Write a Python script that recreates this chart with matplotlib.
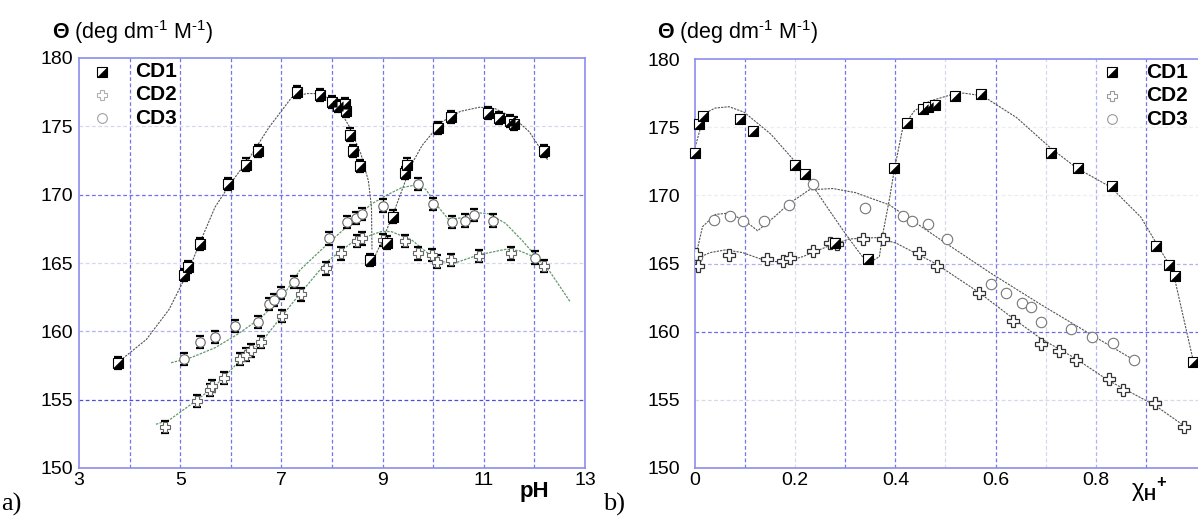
import numpy as np
import matplotlib.pyplot as plt

plt.rcParams['font.family'] = ['Liberation Sans', 'DejaVu Sans']
plt.rcParams['mathtext.fontset'] = 'custom'
plt.rcParams['mathtext.rm'] = 'Liberation Sans'
plt.rcParams['mathtext.it'] = 'Liberation Sans:italic'
plt.rcParams['mathtext.bf'] = 'Liberation Sans:bold'

# ---- panel a): ellipticity vs pH (points with error bars) ----
ph_cd1 = [3.78, 5.08, 5.16, 5.39, 5.95, 6.31, 6.54, 7.30, 7.76, 8.00, 8.11, 8.25, 8.27,
          8.36, 8.42, 8.55, 8.76, 9.09, 9.20, 9.45, 9.48, 10.10, 10.36, 11.09, 11.31,
          11.52, 11.60, 12.19]
th_cd1 = [157.7, 164.1, 164.7, 166.4, 170.8, 172.2, 173.2, 177.5, 177.3, 176.8, 176.5,
          176.6, 176.1, 174.4, 173.2, 172.1, 165.2, 166.5, 168.4, 171.6, 172.2, 174.9,
          175.7, 176.0, 175.6, 175.4, 175.2, 173.2]

ph_cd2 = [4.69, 5.33, 5.58, 5.62, 5.86, 6.18, 6.30, 6.40, 6.60, 7.02, 7.39, 7.89, 8.17,
          8.50, 8.59, 9.00, 9.45, 9.70, 9.97, 10.07, 10.35, 10.90, 11.53, 12.18]
th_cd2 = [153.0, 154.9, 155.7, 156.0, 156.6, 158.0, 158.3, 158.6, 159.2, 161.1, 162.7,
          164.6, 165.7, 166.6, 166.8, 166.7, 166.6, 165.7, 165.6, 165.1, 165.2, 165.5,
          165.7, 164.8]

ph_cd3 = [5.08, 5.39, 5.69, 6.09, 6.54, 6.75, 6.85, 7.00, 7.25, 7.95, 8.30, 8.47, 8.60,
          9.00, 9.70, 10.00, 10.37, 10.62, 10.81, 11.19, 12.01]
th_cd3 = [158.0, 159.2, 159.6, 160.4, 160.7, 162.0, 162.3, 162.8, 163.6, 166.8, 168.0,
          168.3, 168.6, 169.2, 170.8, 169.3, 168.0, 168.1, 168.5, 168.1, 165.4]

err_a = 0.45

# fitted curves (two branches for CD1)
fit_ph_cd1a = [3.76, 4.33, 4.78, 5.16, 5.39, 5.69, 5.99, 6.37, 6.75, 7.2, 7.5, 7.73,
               8.04, 8.34, 8.57, 8.72, 8.78, 8.79]
fit_th_cd1a = [157.7, 159.4, 161.6, 164.4, 166.5, 169.1, 170.8, 172.7, 174.9, 177.1,
               177.4, 177.4, 176.9, 175.0, 173.0, 171.0, 169.1, 166.0]
fit_ph_cd1b = [8.80, 9.0, 9.2, 9.37, 9.57, 9.78, 10.16, 10.54, 10.92, 11.22, 11.6,
               11.9, 12.27]
fit_th_cd1b = [165.1, 166.7, 168.5, 170.2, 172.2, 173.6, 175.3, 176.1, 176.4, 176.3,
               175.6, 174.6, 172.5]
fit_ph_cd2 = [4.52, 4.78, 5.23, 5.69, 6.14, 6.6, 7.05, 7.4, 7.9, 8.43, 8.97, 9.17,
              9.57, 9.9, 10.17, 10.43, 10.9, 11.43, 11.7, 12.03, 12.2]
fit_th_cd2 = [153.2, 153.5, 154.7, 156.0, 157.7, 159.2, 161.3, 162.9, 165.1, 166.6,
              167.3, 167.3, 166.7, 165.7, 165.1, 165.0, 165.6, 166.0, 165.9, 165.4, 164.8]
fit_ph_cd3 = [4.82, 5.23, 5.69, 6.14, 6.6, 7.05, 7.37, 7.97, 8.37, 8.77, 9.1, 9.37,
              9.63, 9.85, 10.1, 10.3, 10.57, 10.83, 11.1, 11.43, 11.77, 12.03, 12.3, 12.7]
fit_th_cd3 = [157.7, 158.1, 158.8, 159.8, 161.0, 162.7, 164.5, 166.6, 167.9, 169.3,
              170.0, 170.5, 170.7, 170.4, 169.1, 168.2, 168.3, 168.7, 168.6, 167.9,
              166.6, 165.5, 164.4, 162.2]

# ---- panel b): ellipticity vs molar fraction chi_H+ ----
x_cd1 = [0.0, 0.008, 0.015, 0.089, 0.115, 0.2, 0.22, 0.28, 0.345, 0.397, 0.423, 0.455,
         0.466, 0.48, 0.519, 0.57, 0.71, 0.765, 0.832, 0.92, 0.947, 0.958, 0.995]
y_cd1 = [173.1, 175.2, 175.8, 175.6, 174.7, 172.2, 171.6, 166.5, 165.3, 172.0, 175.3,
         176.3, 176.5, 176.6, 177.3, 177.4, 173.1, 172.0, 170.7, 166.3, 164.9, 164.1, 157.8]
x_cd2 = [0.001, 0.005, 0.067, 0.143, 0.176, 0.19, 0.235, 0.27, 0.283, 0.335, 0.375,
         0.447, 0.483, 0.566, 0.634, 0.69, 0.727, 0.761, 0.826, 0.855, 0.918, 0.977]
y_cd2 = [165.7, 164.8, 165.6, 165.3, 165.2, 165.4, 165.9, 166.5, 166.4, 166.8, 166.8,
         165.8, 164.8, 162.8, 160.8, 159.1, 158.6, 157.9, 156.5, 155.7, 154.8, 153.0]
x_cd3 = [0.004, 0.037, 0.069, 0.096, 0.138, 0.187, 0.235, 0.34, 0.416, 0.433, 0.465,
         0.504, 0.591, 0.621, 0.653, 0.67, 0.69, 0.751, 0.792, 0.835, 0.877]
y_cd3 = [165.5, 168.2, 168.5, 168.1, 168.1, 169.3, 170.8, 169.1, 168.5, 168.1, 167.9,
         166.8, 163.5, 162.8, 162.1, 161.8, 160.7, 160.2, 159.6, 159.2, 157.9]

fit_x_cd1a = [0.0, 0.019, 0.04, 0.068, 0.098, 0.151, 0.204, 0.235, 0.268, 0.3, 0.328, 0.345]
fit_y_cd1a = [173.5, 176.0, 176.4, 176.5, 176.1, 174.5, 172.3, 170.7, 168.9, 167.2, 165.8, 165.0]
fit_x_cd1b = [0.345, 0.368, 0.375, 0.388, 0.398, 0.415, 0.438, 0.468, 0.513, 0.536,
              0.574, 0.642, 0.709, 0.762, 0.83, 0.89, 0.919, 0.947, 0.958, 0.995]
fit_y_cd1b = [165.0, 165.5, 167.2, 169.7, 171.9, 175.0, 176.2, 176.9, 177.4, 177.5,
              177.3, 175.7, 173.5, 172.0, 170.6, 168.4, 166.6, 164.9, 163.8, 157.8]
fit_x_cd2 = [0.0, 0.03, 0.061, 0.095, 0.141, 0.176, 0.215, 0.268, 0.308, 0.361, 0.401,
             0.48, 0.566, 0.634, 0.69, 0.761, 0.826, 0.918, 0.98]
fit_y_cd2 = [165.3, 165.8, 166.0, 165.8, 165.2, 165.1, 165.5, 166.3, 166.8, 166.9,
             166.5, 165.0, 162.9, 161.0, 159.5, 158.0, 156.4, 154.6, 153.0]
fit_x_cd3 = [0.0, 0.015, 0.041, 0.068, 0.101, 0.125, 0.161, 0.188, 0.228, 0.275, 0.32,
             0.388, 0.488, 0.59, 0.69, 0.79, 0.877]
fit_y_cd3 = [165.3, 167.7, 168.6, 168.7, 168.1, 167.4, 168.5, 169.4, 170.4, 170.5,
             170.2, 169.3, 166.8, 164.3, 162.0, 159.8, 157.9]

labels = ['CD1', 'CD2', 'CD3']

# half-filled square for CD1: open square + lower-right black triangle
TRI = [(-1, -1), (1, -1), (1, 1), (-1, -1)]


def cd1_marker(ax, x, y, ms, transform=None, z=5):
    kw = {} if transform is None else {'transform': transform}
    ax.plot(x, y, ls='none', marker='s', ms=ms, mfc='white', mec='black', mew=0.8,
            zorder=z, clip_on=False, **kw)
    ax.plot(x, y, ls='none', marker=TRI, ms=ms, mfc='black', mec='black', mew=0.3,
            zorder=z + 0.1, clip_on=False, **kw)


def style_axes(ax, xgrid, ygrid):
    for s in ax.spines.values():
        s.set_color('#8c8cf0')
        s.set_linewidth(1.2)
    ax.tick_params(length=0, labelsize=14)
    for xv, c in xgrid:
        ax.axvline(xv, color=c, lw=0.9, ls=(0, (3, 2)), zorder=0)
    for yv, c in ygrid:
        ax.axhline(yv, color=c, lw=0.9, ls=(0, (3, 2)), zorder=0)


W, H = 1198, 518
fig = plt.figure(figsize=(W / 100, H / 100), dpi=100)

BLUE = '#7474ee'
LBLUE = '#b0b0f4'
GREY = '#d8d8e8'
YLAB = r'$\mathbf{\Theta}$ (deg dm$^{\text{-1}}$ M$^{\text{-1}}$)'

# ---------------- panel a ----------------
axa = fig.add_axes([79 / W, 1 - 468 / H, 506 / W, 410 / H])
axa.set_xlim(3, 13)
axa.set_ylim(150, 180)
axa.set_xticks([3, 5, 7, 9, 11, 13])
axa.set_yticks([150, 155, 160, 165, 170, 175, 180])
style_axes(axa,
           [(4, BLUE), (5, BLUE), (6, BLUE), (7, BLUE), (8, BLUE), (9, BLUE),
            (10, BLUE), (11, BLUE), (12, BLUE)],
           [(155, '#4c4cdd'), (160, LBLUE), (165, GREY), (170, '#7070f0'), (175, GREY)])
axa.tick_params(axis='y', pad=4)
axa.tick_params(axis='x', pad=3)

axa.plot(fit_ph_cd1a, fit_th_cd1a, color='#555555', lw=0.8, ls=(0, (2, 1)), zorder=2)
axa.plot(fit_ph_cd1b, fit_th_cd1b, color='#555555', lw=0.8, ls=(0, (2, 1)), zorder=2)
axa.plot(fit_ph_cd2, fit_th_cd2, color='#5f9a6a', lw=0.9, ls=(0, (2, 1)), zorder=2)
axa.plot(fit_ph_cd3, fit_th_cd3, color='#5f9a6a', lw=0.9, ls=(0, (2, 1)), zorder=2)

for xs, ys in [(ph_cd1, th_cd1), (ph_cd2, th_cd2), (ph_cd3, th_cd3)]:
    axa.errorbar(xs, ys, yerr=err_a, fmt='none', ecolor='black', elinewidth=0.9,
                 capsize=3.2, capthick=1.6, zorder=3)
axa.plot(ph_cd3, th_cd3, ls='none', marker='o', ms=6.8, mfc='white', mec='#666666',
         mew=0.8, zorder=4)
axa.plot(ph_cd2, th_cd2, ls='none', marker='P', ms=6.8, mfc='white', mec='#666666',
         mew=0.8, zorder=4)
cd1_marker(axa, ph_cd1, th_cd1, 6.8)

# legend a
leg_y = [0.967, 0.910, 0.853]
cd1_marker(axa, [0.045], [leg_y[0]], 6.5, transform=axa.transAxes)
axa.plot([0.045], [leg_y[1]], ls='none', marker='P', ms=7, mfc='white', mec='#b0b0b0',
         mew=0.8, transform=axa.transAxes)
axa.plot([0.045], [leg_y[2]], ls='none', marker='o', ms=7, mfc='white', mec='#a0a0a0',
         mew=0.8, transform=axa.transAxes)
for yy, lab in zip(leg_y, labels):
    axa.text(0.11, yy, lab, transform=axa.transAxes, fontsize=15, fontweight='bold',
             va='center', ha='left')

fig.text(52 / W, 1 - 32 / H, YLAB, fontsize=15.5, va='center', ha='left')
fig.text(534 / W, 1 - 492 / H, 'pH', fontsize=16, fontweight='bold', ha='center',
         va='center')
fig.text(1 / W, 1 - 504 / H, 'a)', fontsize=19, family='Liberation Serif', ha='left',
         va='center')

# ---------------- panel b ----------------
axb = fig.add_axes([695 / W, 1 - 468 / H, 521 / W, 409 / H])
axb.set_xlim(0, 1.04)
axb.set_ylim(150, 180)
axb.set_xticks([0, 0.2, 0.4, 0.6, 0.8])
axb.set_xticklabels(['0', '0.2', '0.4', '0.6', '0.8'])
axb.set_yticks([150, 155, 160, 165, 170, 175, 180])
style_axes(axb,
           [(0.1, BLUE), (0.2, GREY), (0.3, BLUE), (0.4, BLUE), (0.5, GREY),
            (0.6, BLUE), (0.7, GREY), (0.8, LBLUE), (0.9, BLUE)],
           [(155, GREY), (160, '#6a6aee'), (165, LBLUE), (170, '#ececf4'), (175, '#ececf4')])
axb.spines['right'].set_visible(False)
axb.tick_params(axis='y', pad=11)
axb.tick_params(axis='x', pad=3)

for fx, fy in [(fit_x_cd1a, fit_y_cd1a), (fit_x_cd1b, fit_y_cd1b),
               (fit_x_cd2, fit_y_cd2), (fit_x_cd3, fit_y_cd3)]:
    axb.plot(fx, fy, color='#555555', lw=0.8, ls=(0, (2, 1)), zorder=2)

axb.plot(x_cd3, y_cd3, ls='none', marker='o', ms=7.5, mfc='white', mec='#777777',
         mew=0.8, zorder=4)
axb.plot(x_cd2, y_cd2, ls='none', marker='P', ms=9, mfc='white', mec='#333333',
         mew=0.9, zorder=4)
cd1_marker(axb, x_cd1, y_cd1, 7)

# legend b
cd1_marker(axb, [0.8], [leg_y[0]], 6.5, transform=axb.transAxes)
axb.plot([0.8], [leg_y[1]], ls='none', marker='P', ms=7.5, mfc='white', mec='#9a9a9a',
         mew=0.8, transform=axb.transAxes)
axb.plot([0.8], [leg_y[2]], ls='none', marker='o', ms=7, mfc='white', mec='#9a9a9a',
         mew=0.8, transform=axb.transAxes)
for yy, lab in zip(leg_y, labels):
    axb.text(0.865, yy, lab, transform=axb.transAxes, fontsize=15, fontweight='bold',
             va='center', ha='left')

fig.text(657 / W, 1 - 32 / H, YLAB, fontsize=15.5, va='center', ha='left')
fig.text(1131 / W, 1 - 490 / H, r'$\mathrm{\chi}_{\mathbf{H}}{}^{\mathbf{+}}$',
         fontsize=17, ha='left', va='center')
fig.text(603 / W, 1 - 504 / H, 'b)', fontsize=19, family='Liberation Serif', ha='left',
         va='center')

fig.savefig('out.png', dpi=100)
